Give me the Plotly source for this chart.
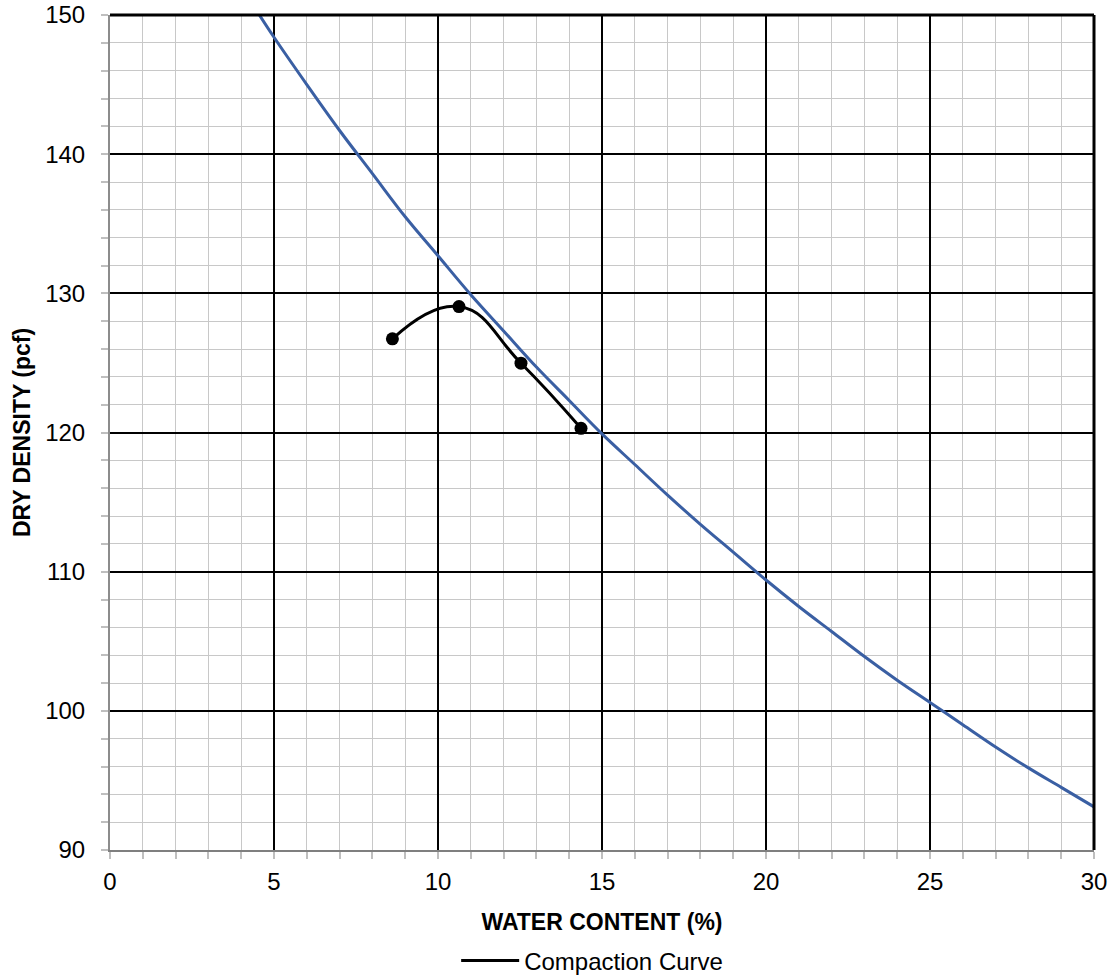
import plotly.graph_objects as go

# Compaction test points (water content %, dry density pcf)
comp_w = [8.61, 10.64, 12.53, 14.36]
comp_d = [126.73, 129.05, 124.98, 120.3]

# Zero-air-voids curve
zav_w = [4.5, 5, 6, 7, 8, 9, 10, 11, 12, 13, 14, 15, 16, 17, 18, 19, 20,
         21, 22, 23, 24, 25, 26, 27, 28, 29, 30]
zav_d = [150.2, 148.4, 145.0, 141.7, 138.6, 135.5, 132.7, 129.9, 127.3, 124.7,
         122.3, 119.9, 117.7, 115.5, 113.4, 111.4, 109.4, 107.5, 105.7, 103.9,
         102.2, 100.6, 99.0, 97.4, 95.9, 94.5, 93.1]

x_ticks = [0, 5, 10, 15, 20, 25, 30]
y_ticks = [90, 100, 110, 120, 130, 140, 150]

fig = go.Figure()
fig.add_trace(go.Scatter(x=zav_w, y=zav_d, mode="lines", line=dict(color="#3A5FA3", width=3, shape="spline"),
                         showlegend=False, hoverinfo="skip"))
fig.add_trace(go.Scatter(x=comp_w, y=comp_d, mode="lines", name="Compaction Curve",
                         line=dict(color="black", width=3, shape="spline", smoothing=1.3)))
fig.add_trace(go.Scatter(x=comp_w, y=comp_d, mode="markers", showlegend=False,
                         marker=dict(color="black", size=13)))

font = "Liberation Sans"
tickfont = dict(family=font, size=24, color="black")
fig.update_layout(
    width=1112, height=976,
    margin=dict(l=110, r=18, t=15, b=126),
    paper_bgcolor="white", plot_bgcolor="white",
    font=dict(family=font, size=24, color="black"),
    legend=dict(orientation="h", x=0.49, xanchor="center",
                yref="container", y=0.0154, yanchor="middle",
                font=dict(family=font, size=24), itemwidth=58, bgcolor="rgba(0,0,0,0)"),
    xaxis=dict(range=[0, 30], tickvals=x_ticks, ticktext=[str(v) for v in x_ticks],
               tickfont=tickfont, automargin=False, ticklabelstandoff=2,
               showgrid=True, gridcolor="black", gridwidth=1.5,
               showline=True, linecolor="#7F7F7F", linewidth=2,
               ticks="outside", ticklen=7, tickcolor="#BFBFBF", tickwidth=2,
               minor=dict(dtick=1, showgrid=True, gridcolor="#C8C8C8", gridwidth=1,
                          ticks="outside", ticklen=7, tickcolor="#BFBFBF", tickwidth=2),
               title=dict(text="<b>WATER CONTENT (%)</b>", font=dict(family=font, size=23), standoff=20),
               zeroline=False),
    yaxis=dict(range=[90, 150], tickvals=y_ticks, ticktext=[str(v) for v in y_ticks],
               tickfont=tickfont, automargin=False, ticklabelstandoff=11,
               showgrid=True, gridcolor="black", gridwidth=1.5,
               showline=True, linecolor="#8C8C8C", linewidth=2,
               ticks="outside", ticklen=7, tickcolor="#BFBFBF", tickwidth=2,
               minor=dict(dtick=2, showgrid=True, gridcolor="#C8C8C8", gridwidth=1,
                          ticks="outside", ticklen=7, tickcolor="#BFBFBF", tickwidth=2),
               title=dict(text="<b>DRY DENSITY (pcf)</b>", font=dict(family=font, size=23), standoff=8),
               zeroline=False),
    shapes=[
        dict(type="line", xref="paper", yref="paper", x0=0, x1=1, y0=1, y1=1,
             line=dict(color="black", width=3)),
        dict(type="line", xref="paper", yref="paper", x0=1, x1=1, y0=0, y1=1,
             line=dict(color="black", width=3)),
    ],
)

fig.write_html("out.html")
